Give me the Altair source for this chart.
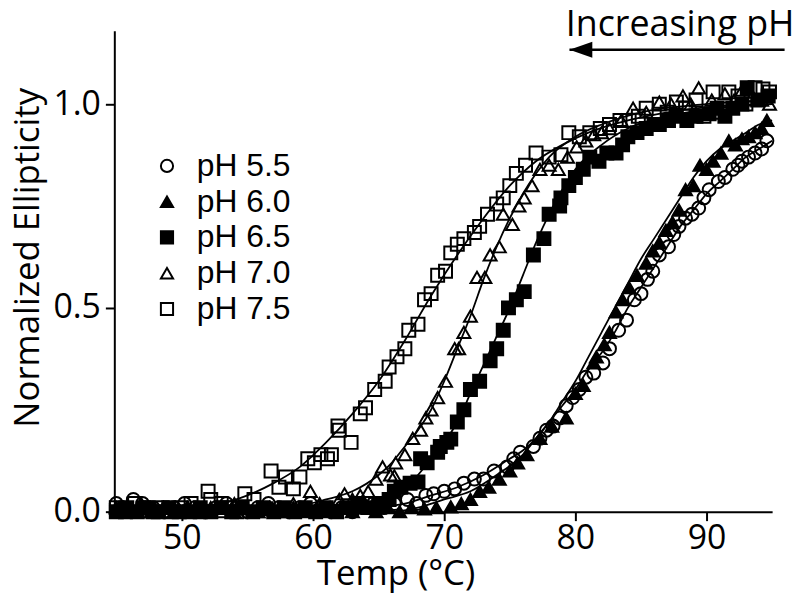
import altair as alt
import pandas as pd

# ---------------- data ----------------
series_names = ["pH 5.5", "pH 6.0", "pH 6.5", "pH 7.0", "pH 7.5"]
series_shapes = ["circle", "triangle-up", "square", "triangle-up", "square"]
series_fills = ["transparent", "black", "black", "transparent", "transparent"]
series_strokes = ["black", "black", "black", "black", "black"]

t_55 = [45.0, 45.5, 46.3, 47.0, 47.8, 48.6, 49.4, 50.2, 51.0, 51.8, 52.6, 53.4, 54.2, 55.0, 55.8,
        56.6, 57.4, 58.2, 59.0, 59.8, 60.6, 61.4, 62.2, 63.0, 63.8, 64.6, 65.4, 66.2, 67.2, 67.9,
        68.6, 69.2, 70.0, 70.8, 71.5, 72.3, 73.0, 73.8, 74.8, 75.3, 75.8, 76.8, 77.3, 77.8, 78.3,
        78.8, 79.3, 79.8, 80.3, 80.8, 81.4, 82.1, 82.6, 83.3, 83.9, 84.5, 85.0, 85.5, 85.9, 86.4,
        87.1, 87.5, 87.9, 88.4, 88.9, 89.4, 89.8, 90.2, 90.9, 91.4, 92.0, 92.4, 92.7, 93.2, 93.7,
        94.2, 94.6]
y_55 = [0.02, 0.01, 0.03, 0.02, 0.01, 0.0, 0.01, 0.02, 0.01, 0.0, 0.01, 0.02, 0.01, 0.0, 0.01,
        0.02, 0.01, 0.0, 0.01, 0.02, 0.01, 0.0, 0.01, 0.0, 0.01, 0.02, 0.01, 0.02, 0.03, 0.02,
        0.04, 0.044, 0.05, 0.056, 0.07, 0.08, 0.08, 0.10, 0.11, 0.13, 0.146, 0.16, 0.18, 0.20, 0.21,
        0.23, 0.26, 0.28, 0.30, 0.33, 0.34, 0.365, 0.40, 0.445, 0.47, 0.52, 0.535, 0.57, 0.59, 0.63,
        0.65, 0.68, 0.70, 0.72, 0.73, 0.745, 0.77, 0.79, 0.81, 0.82, 0.84, 0.85, 0.86, 0.87, 0.88,
        0.89, 0.91]

t_60 = [45.0, 45.9, 46.8, 47.7, 48.6, 49.5, 50.4, 51.3, 52.2, 53.1, 54.0, 54.9, 55.8, 56.7, 57.6,
        58.5, 59.4, 60.3, 61.2, 62.1, 63.0, 63.9, 64.8, 65.7, 66.6, 67.5, 68.5, 69.4, 70.5, 71.3,
        72.0, 72.7, 73.4, 74.2, 75.0, 75.6, 76.3, 77.3, 78.2, 79.3, 80.0, 80.6, 81.4, 81.6, 82.2,
        82.6, 83.1, 83.6, 84.1, 84.7, 85.4, 85.9, 86.4, 86.9, 87.4, 87.9, 88.4, 89.0, 89.5, 90.0,
        90.5, 91.1, 91.7, 92.2, 92.7, 93.2, 93.7, 94.2, 94.6]
y_60 = [0.01, 0.0, 0.01, 0.0, 0.01, 0.0, 0.01, 0.0, 0.0, 0.01, 0.0, 0.01, 0.0, 0.01, 0.0,
        0.01, 0.0, 0.01, 0.0, 0.01, 0.0, 0.01, 0.0, 0.01, 0.0, 0.01, 0.007, 0.01, 0.012, 0.02,
        0.03, 0.05, 0.06, 0.08, 0.10, 0.12, 0.14, 0.18, 0.21, 0.23, 0.29, 0.31, 0.365, 0.38, 0.41,
        0.44, 0.49, 0.52, 0.55, 0.58, 0.61, 0.64, 0.66, 0.69, 0.71, 0.74, 0.79, 0.80, 0.85, 0.84,
        0.86, 0.88, 0.91, 0.90, 0.915, 0.92, 0.93, 0.94, 0.96]

t_65 = [45.0, 45.8, 46.6, 47.4, 48.2, 49.0, 49.8, 50.6, 51.4, 52.2, 53.0, 53.8, 54.6, 55.4, 56.2,
        57.0, 57.8, 58.6, 59.4, 60.2, 61.0, 61.8, 62.6, 63.4, 64.2, 65.0, 65.8, 66.2, 66.7, 67.4,
        68.0, 68.2, 68.7, 69.5, 69.7, 70.2, 70.5, 71.0, 71.5, 72.0, 72.7, 73.5, 74.0, 74.5, 74.9,
        75.5, 76.1, 76.8, 77.6, 78.0, 78.8, 78.9, 79.5, 80.0, 80.6, 81.1, 81.8, 82.4, 83.1, 83.6,
        84.0, 84.7, 85.4, 86.0, 86.4, 87.1, 87.7, 88.5, 89.2, 90.2, 90.8, 91.4, 92.0, 92.7, 93.1,
        93.9, 94.7]
y_65 = [0.0, 0.01, 0.0, 0.01, 0.0, 0.01, 0.0, 0.0, 0.01, 0.0, 0.01, 0.0, 0.01, 0.0, 0.01,
        0.0, 0.01, 0.0, 0.01, 0.0, 0.01, 0.0, 0.01, 0.02, 0.01, 0.02, 0.03, 0.05, 0.06, 0.07,
        0.073, 0.13, 0.12, 0.146, 0.16, 0.17, 0.178, 0.22, 0.25, 0.30, 0.32, 0.37, 0.40, 0.445, 0.50,
        0.52, 0.54, 0.63, 0.67, 0.73, 0.75, 0.77, 0.80, 0.82, 0.84, 0.87, 0.86, 0.88, 0.88, 0.90,
        0.92, 0.93, 0.94, 0.95, 0.95, 0.96, 0.97, 0.96, 0.97, 0.976, 0.99, 0.97, 0.99, 1.0, 1.04,
        1.01, 1.02]

t_70 = [45.2, 46.0, 46.9, 47.7, 48.6, 49.5, 50.4, 51.3, 52.2, 53.1, 54.0, 54.9, 55.8, 56.7, 57.6,
        58.5, 59.8, 60.5, 61.3, 62.0, 62.4, 63.0, 63.6, 64.2, 64.8, 65.3, 65.9, 66.2, 66.3, 67.0,
        67.6, 68.2, 68.6, 69.0, 69.5, 70.1, 70.8, 71.1, 71.5, 72.0, 72.5, 73.1, 73.5, 74.2, 74.5,
        75.2, 75.7, 76.1, 76.7, 77.3, 78.0, 78.7, 79.4, 80.1, 80.8, 81.4, 82.0, 82.6, 83.5, 84.4,
        85.4, 86.4, 87.3, 88.2, 88.8, 89.4, 90.4, 91.4, 92.1, 92.7, 93.5, 94.2, 94.8]
y_70 = [0.01, 0.0, 0.02, 0.0, 0.01, 0.0, 0.01, 0.0, 0.01, 0.0, 0.02, 0.01, 0.0, 0.01, 0.0,
        0.02, 0.05, 0.02, 0.01, 0.03, 0.044, 0.03, 0.04, 0.05, 0.08, 0.11, 0.09, 0.088, 0.12, 0.14,
        0.18, 0.20, 0.23, 0.25, 0.28, 0.32, 0.40, 0.40, 0.44, 0.48, 0.575, 0.575, 0.63, 0.65, 0.73,
        0.705, 0.75, 0.77, 0.80, 0.84, 0.85, 0.84, 0.87, 0.895, 0.91, 0.925, 0.93, 0.94, 0.96, 0.99,
        0.98, 1.005, 1.0, 1.02, 1.0, 1.04, 1.01, 1.025, 1.01, 1.034, 1.02, 1.01, 1.0]

t_75 = [45.0, 45.7, 46.4, 47.1, 47.8, 48.5, 49.2, 50.0, 50.7, 51.4, 52.0, 52.2, 53.0, 53.6, 54.2,
        54.8, 55.5, 56.4, 56.8, 57.4, 57.9, 58.5, 59.0, 59.6, 60.1, 60.6, 61.1, 61.4, 61.9, 62.0,
        62.9, 63.6, 64.0, 64.7, 65.5, 65.8, 66.4, 67.0, 67.3, 68.0, 68.5, 69.0, 69.5, 70.1, 70.5,
        71.0, 71.5, 72.3, 72.7, 73.3, 74.0, 74.5, 75.0, 75.5, 76.2, 77.0, 78.0, 78.9, 79.5, 80.3,
        81.1, 81.9, 82.6, 83.4, 84.1, 84.8, 85.4, 86.4, 87.0, 87.7, 88.4, 89.2, 89.8, 90.5, 91.1,
        91.7, 92.4, 93.0, 93.7, 94.3, 94.8]
y_75 = [0.01, 0.0, 0.02, 0.01, 0.0, 0.01, 0.0, 0.01, 0.02, 0.0, 0.05, 0.03, 0.02, 0.01, 0.0,
        0.044, 0.03, 0.007, 0.10, 0.06, 0.085, 0.056, 0.085, 0.13, 0.12, 0.14, 0.13, 0.14, 0.21, 0.20,
        0.17, 0.24, 0.255, 0.30, 0.32, 0.355, 0.38, 0.40, 0.445, 0.46, 0.52, 0.535, 0.58, 0.59, 0.635,
        0.656, 0.67, 0.685, 0.70, 0.73, 0.755, 0.77, 0.80, 0.83, 0.85, 0.88, 0.87, 0.876, 0.93, 0.92,
        0.93, 0.94, 0.95, 0.96, 0.96, 0.97, 0.99, 1.0, 0.98, 1.005, 0.99, 1.01, 0.97, 1.03, 0.98,
        1.03, 1.02, 1.0, 1.04, 1.037, 1.03]

# fitted curves
ct_55 = [45, 64, 67, 69, 71, 73, 75, 76, 77, 78, 79, 80, 81, 82, 83, 84, 85, 86, 87, 88, 89, 90, 91, 92, 93, 94, 95]
cy_55 = [0.0, 0.01, 0.02, 0.04, 0.06, 0.09, 0.13, 0.15, 0.18, 0.22, 0.26, 0.30, 0.35, 0.39, 0.44, 0.50,
         0.55, 0.60, 0.65, 0.70, 0.74, 0.78, 0.81, 0.84, 0.87, 0.89, 0.91]
ct_60 = [45, 66, 68, 70, 72, 74, 76, 77, 78, 79, 80, 81, 82, 83, 84, 85, 86, 87, 88, 89, 90, 91, 92, 93, 94, 95]
cy_60 = [0.0, 0.0, 0.01, 0.03, 0.05, 0.09, 0.14, 0.18, 0.22, 0.27, 0.32, 0.38, 0.44, 0.50, 0.56, 0.62,
         0.67, 0.72, 0.77, 0.82, 0.86, 0.89, 0.91, 0.93, 0.95, 0.96]
ct_65 = [45, 62, 65, 67, 68, 69, 70, 71, 72, 73, 74, 75, 76, 77, 78, 79, 80, 82, 84, 87, 91, 95]
cy_65 = [0.0, 0.01, 0.03, 0.06, 0.09, 0.13, 0.17, 0.22, 0.29, 0.36, 0.43, 0.50, 0.58, 0.66, 0.73, 0.79,
         0.84, 0.90, 0.94, 0.97, 0.99, 1.0]
ct_70 = [45, 58, 61, 63, 65, 66, 67, 68, 69, 70, 71, 72, 73, 74, 75, 76, 77, 78, 80, 82, 85, 90, 95]
cy_70 = [0.0, 0.01, 0.03, 0.05, 0.09, 0.12, 0.16, 0.20, 0.25, 0.32, 0.40, 0.48, 0.57, 0.65, 0.72, 0.78,
         0.83, 0.87, 0.92, 0.95, 0.98, 1.0, 1.01]
ct_75 = [45, 50, 53, 55, 57, 59, 61, 63, 65, 67, 69, 71, 73, 75, 77, 79, 81, 84, 87, 91, 95]
cy_75 = [0.0, 0.01, 0.02, 0.04, 0.07, 0.11, 0.17, 0.24, 0.32, 0.42, 0.53, 0.63, 0.72, 0.80, 0.86, 0.90,
         0.93, 0.96, 0.98, 0.995, 1.0]

x_ticks = [50, 60, 70, 80, 90]
y_ticks = [0.0, 0.5, 1.0]
x_domain = [44.85, 95]
y_domain = [0, 1.18]

annot_text = ["Increasing pH"]
annot_x = [96.7]
annot_y = [1.166]
arrow_x = [79.55]
arrow_x2 = [95.95]
arrow_y = [1.1336]

# ---------------- build tables ----------------
pts_t = [t_55, t_60, t_65, t_70, t_75]
pts_y = [y_55, y_60, y_65, y_70, y_75]
crv_t = [ct_55, ct_60, ct_65, ct_70, ct_75]
crv_y = [cy_55, cy_60, cy_65, cy_70, cy_75]

rows = []
for name, ts, ys in zip(series_names, pts_t, pts_y):
    for t, v in zip(ts, ys):
        rows.append({"series": name, "temp": t, "ell": v})
points = pd.DataFrame(rows)

crows = []
for name, ts, ys in zip(series_names, crv_t, crv_y):
    for t, v in zip(ts, ys):
        crows.append({"series": name, "temp": t, "ell": v})
curves = pd.DataFrame(crows)

annot = pd.DataFrame({"text": annot_text, "x": annot_x, "y": annot_y})
arrow = pd.DataFrame({"x": arrow_x, "x2": arrow_x2, "y": arrow_y})

xscale = alt.Scale(domain=x_domain, nice=False, zero=False)
yscale = alt.Scale(domain=y_domain, nice=False)

xaxis = alt.Axis(values=x_ticks, title="Temp (°C)", grid=False, format="d",
                 titleX=283, titleY=73, titleBaseline="alphabetic")
yaxis = alt.Axis(values=y_ticks, title="Normalized Ellipticity", grid=False, format=".1f",
                 titleX=-76, titleY=228, titleBaseline="alphabetic", titleAngle=270)

lines = alt.Chart(curves).mark_line(color="black", strokeWidth=1.8, interpolate="monotone").encode(
    x=alt.X("temp:Q", scale=xscale, axis=xaxis),
    y=alt.Y("ell:Q", scale=yscale, axis=yaxis),
    detail="series:N",
)

pts = alt.Chart(points).mark_point(strokeWidth=2, size=170, opacity=1,
                                   fillOpacity=1, strokeOpacity=1).encode(
    x=alt.X("temp:Q", scale=xscale),
    y=alt.Y("ell:Q", scale=yscale),
    shape=alt.Shape("series:N", scale=alt.Scale(domain=series_names, range=series_shapes),
                    legend=alt.Legend(title=None)),
    fill=alt.Fill("series:N", scale=alt.Scale(domain=series_names, range=series_fills),
                  legend=alt.Legend(title=None)),
    stroke=alt.Stroke("series:N", scale=alt.Scale(domain=series_names, range=series_strokes),
                      legend=alt.Legend(title=None)),
)

arrow_line = alt.Chart(arrow).mark_rule(color="black", strokeWidth=2.5).encode(
    x=alt.X("x:Q", scale=xscale), x2="x2:Q", y=alt.Y("y:Q", scale=yscale))
arrow_head = alt.Chart(arrow).mark_point(shape="M0,0L2,-0.7L2,0.7Z", size=529, filled=True,
                                         color="black", opacity=1).encode(
    x=alt.X("x:Q", scale=xscale), y=alt.Y("y:Q", scale=yscale))
annot_txt = alt.Chart(annot).mark_text(font="Open Sans", fontSize=36, align="right",
                                       baseline="alphabetic", color="black").encode(
    x=alt.X("x:Q", scale=xscale), y=alt.Y("y:Q", scale=yscale), text="text:N")

chart = alt.layer(lines, pts, arrow_line, arrow_head, annot_txt).properties(
    width=662, height=484,
    autosize=alt.AutoSizeParams(type="none"),
    padding={"left": 107, "top": 21, "right": 20, "bottom": 90},
).configure_view(stroke=None).configure_axis(
    domainColor="black", domainWidth=2, tickColor="black", tickWidth=2, tickSize=9,
    labelFont="Open Sans", labelFontSize=34, labelColor="black", labelPadding=1,
    titleFont="Open Sans", titleFontSize=35, titleColor="black", titleFontWeight="normal",
).configure_axisY(labelPadding=5).configure_legend(
    orient="none", legendX=37, legendY=120, padding=0,
    labelFont="Liberation Sans", labelFontSize=32, labelColor="black", labelOffset=14,
    symbolSize=150, symbolStrokeWidth=2, symbolStrokeColor="black", rowPadding=4,
    labelLimit=300,
)

chart.save("out.html", embed_options={"renderer": "svg", "actions": False})
